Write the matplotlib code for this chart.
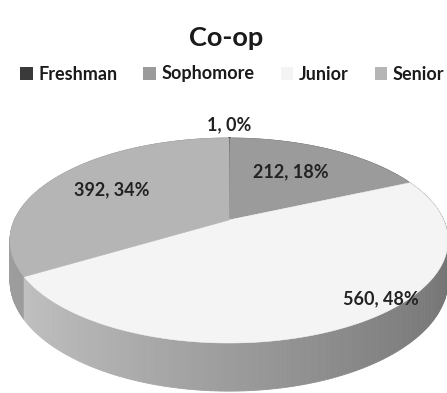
import numpy as np
import matplotlib.pyplot as plt
from matplotlib.patches import Polygon, Patch

plt.rcParams['font.family'] = ['Lato', 'DejaVu Sans']

# Co-op participation by class year
classes = ["Freshman", "Sophomore", "Junior", "Senior"]
counts = [1, 212, 560, 392]
top_colors = ["#3a3a3a", "#9b9b9b", "#f4f4f4", "#b5b5b5"]

# where each data label sits: fraction through its slice, radius (1 = rim)
label_spots = [(0.5, 1.2), (0.46, 0.63), (0.42, 0.92), (0.5, 0.67)]

# pie projection: centre, half-axes, perspective, wall height (pixels)
CX, CY = 229, 220
A, B, P, H = 214.6, 98.4, 0.2, 38.5


def project(theta, r=1.0, drop=0.0):
    """theta is clockwise from 12 o'clock; far side is drawn smaller."""
    x, z = r * np.sin(theta), r * np.cos(theta)
    w = 1 + P * z
    return CX + A * x / w, CY - B * z / w + drop / w


def shade(hex_color, factor):
    rgb = np.array([int(hex_color[i:i + 2], 16) for i in (1, 3, 5)]) / 255
    return tuple(np.clip(rgb * factor, 0, 1))


total = sum(counts)
edges = np.concatenate([[0], np.cumsum(counts)]) / total * 2 * np.pi

fig = plt.figure(figsize=(4.47, 3.93), dpi=100)
ax = fig.add_axes([0, 0, 1, 1])
ax.set_xlim(0, 447)
ax.set_ylim(393, 0)
ax.axis('off')

# outer wall, drawn far to near as thin strips
strips = []
for i, col in enumerate(top_colors):
    n = max(2, int(np.degrees(edges[i + 1] - edges[i])))
    t = np.linspace(edges[i], edges[i + 1], n + 1)
    for a0, a1 in zip(t[:-1], t[1:]):
        xs0, ys0 = project(a0)
        xs1, ys1 = project(a1)
        xb0, yb0 = project(a0, drop=H)
        xb1, yb1 = project(a1, drop=H)
        mid = (a0 + a1) / 2
        light = 0.71 - 0.17 * np.sin(mid)
        if col == top_colors[2]:
            light -= 0.07
        strips.append((np.cos(mid), [(xs0, ys0), (xs1, ys1), (xb1, yb1), (xb0, yb0)],
                       shade(col, light)))
for _, pts, c in sorted(strips, key=lambda s: -s[0]):
    ax.add_patch(Polygon(pts, closed=True, facecolor=c, edgecolor=c, lw=0.6))

# top faces
for i, col in enumerate(top_colors):
    t = np.linspace(edges[i], edges[i + 1], 200)
    xs, ys = project(t)
    pts = [(CX, CY)] + list(zip(xs, ys))
    lw = 1.2 if counts[i] / total < 0.01 else 0.4
    ax.add_patch(Polygon(pts, closed=True, facecolor=col, edgecolor=col, lw=lw))

# data labels: "count, percent"
for i, (frac, rad) in enumerate(label_spots):
    theta = edges[i] + frac * (edges[i + 1] - edges[i])
    lx, ly = project(theta, r=rad)
    ax.text(lx, ly, f"{counts[i]}, {round(100 * counts[i] / total)}%",
            ha='center', va='center', fontsize=13, fontweight='bold', color='#222222')

ax.text(226, 38, "Co-op", ha='center', va='center', fontsize=19.5,
        fontweight='bold', color='#1a1a1a')

handles = [Patch(facecolor=c, edgecolor='none') for c in top_colors]
ax.legend(handles, classes, loc='center left', bbox_to_anchor=(20 / 447, 1 - 74 / 393),
          ncol=4, frameon=False, borderpad=0, borderaxespad=0,
          handlelength=0.7, handleheight=0.7, handletextpad=0.3, columnspacing=1.45,
          labelcolor='#1a1a1a', prop={'size': 13, 'weight': 'bold'})

fig.savefig("out.png", dpi=100, facecolor='white')
